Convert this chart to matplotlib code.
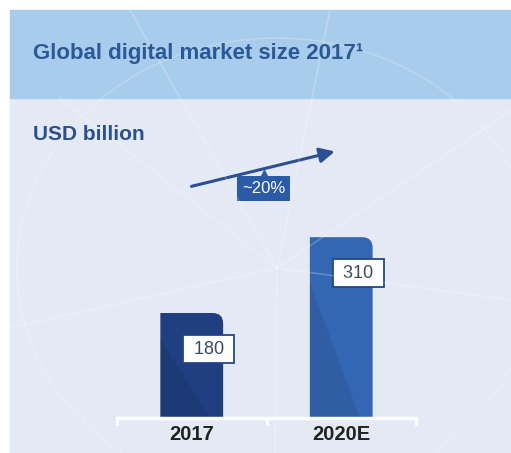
import matplotlib.pyplot as plt
import numpy as np
from matplotlib.patches import Rectangle, PathPatch
from matplotlib.path import Path
from matplotlib.lines import Line2D

plt.rcParams['font.family'] = ['Liberation Sans', 'DejaVu Sans']

# data
categories = ["2017", "2020E"]
values = [180, 310]
bar_colors = ["#1f3f80", "#3467b3"]
growth_label = "~20%"
title = "Global digital market size 2017\u00b9"
unit = "USD billion"

fig = plt.figure(figsize=(5.11, 4.53), dpi=100)
fig.patch.set_facecolor("white")
W, H = 511, 453

def fx(px):
    return px / W

def fy(py):
    return 1 - py / H

# background panels
fig.add_artist(Rectangle((fx(10), fy(453)), 1, fy(98) - fy(453),
                         transform=fig.transFigure, color="#e4e9f4", zorder=0))
fig.add_artist(Rectangle((fx(10), fy(98)), 1, fy(10) - fy(98),
                         transform=fig.transFigure, color="#a8cceb", zorder=0))

# faint decorative lines radiating from a point
cx, cy = 277, 268
for ex, ey in [(130, 10), (330, 10), (511, 300), (275, 453), (0, 330), (60, 98), (511, 110)]:
    fig.add_artist(Line2D([fx(cx), fx(ex)], [fy(cy), fy(ey)], transform=fig.transFigure,
                          color="white", lw=1.2, alpha=0.22, zorder=0.5))
t = np.linspace(0, 2 * np.pi, 300)
fig.add_artist(Line2D(fx(cx + 260 * np.cos(t)), fy(cy + 230 * np.sin(t)),
                      transform=fig.transFigure, color="white", lw=1.2, alpha=0.2, zorder=0.5))

fig.text(fx(33), fy(53), title, fontsize=16, fontweight="bold", color="#2b5896",
         ha="left", va="center")
fig.text(fx(33), fy(134), unit, fontsize=15, fontweight="bold", color="#2a5094",
         ha="left", va="center")

ax = fig.add_axes([fx(117), 1 - 418 / H, (416 - 117) / W, 280 / H])
ax.patch.set_alpha(0)
x = np.arange(len(categories))
bars = ax.bar(x, values, width=0.42, color=bar_colors, zorder=2)
ax.set_xlim(-0.5, 1.5)
ax.set_ylim(0, 480)

# round the top-right corner of each bar
rx, ry = 0.07, 18
for b in bars:
    x0, y0, w, h = b.get_x(), b.get_y(), b.get_width(), b.get_height()
    x1, y1 = x0 + w, y0 + h
    verts = [(x0, y0), (x0, y1), (x1 - rx, y1), (x1, y1), (x1, y1 - ry), (x1, y0), (x0, y0)]
    codes = [Path.MOVETO, Path.LINETO, Path.LINETO, Path.CURVE3, Path.CURVE3,
             Path.LINETO, Path.CLOSEPOLY]
    b.set_visible(False)
    ax.add_patch(PathPatch(Path(verts, codes), facecolor=b.get_facecolor(),
                           edgecolor="none", zorder=2))
    # darker lower-left facet
    facet = [(x0, y0), (x0, y0 + h * 0.75), (x0 + w * 0.8, y0)]
    ax.add_patch(plt.Polygon(facet, closed=True, facecolor="black", alpha=0.08,
                             edgecolor="none", zorder=2.1))

for xi, v in zip(x, values):
    ax.text(xi + 0.115, v - 62, f" {v} ", fontsize=13, color="#3c4a66", ha="center",
            va="center", zorder=3,
            bbox=dict(boxstyle="square,pad=0.3", facecolor="white",
                      edgecolor="#23468a", linewidth=1.3))

# growth arrow
ax.annotate("", xy=(0.975, 458), xytext=(-0.02, 396),
            arrowprops=dict(arrowstyle="-|>,head_length=0.9,head_width=0.45",
                            color="#2a4f94", lw=2.2), annotation_clip=False)
ax.text(0.48, 393, growth_label, fontsize=12, color="white", ha="center", va="center",
        zorder=3, bbox=dict(boxstyle="square,pad=0.3", facecolor="#2b5aa8",
                            edgecolor="none"))
ax.plot([0.48], [416], marker="^", markersize=7, color="#2b5aa8", clip_on=False, zorder=2.9)

for s in ["top", "right", "left"]:
    ax.spines[s].set_visible(False)
ax.spines["bottom"].set_color("white")
ax.spines["bottom"].set_linewidth(2.5)
ax.set_yticks([])
ax.set_xticks(x)
ax.set_xticklabels(categories, fontsize=14.5, fontweight="bold", color="#222222")
ax.tick_params(axis="x", which="major", length=0, pad=5)
ax.set_xticks([-0.5, 0.5, 1.5], minor=True)
ax.tick_params(axis="x", which="minor", length=5, width=2, color="white")

fig.savefig("out.png", dpi=100)
